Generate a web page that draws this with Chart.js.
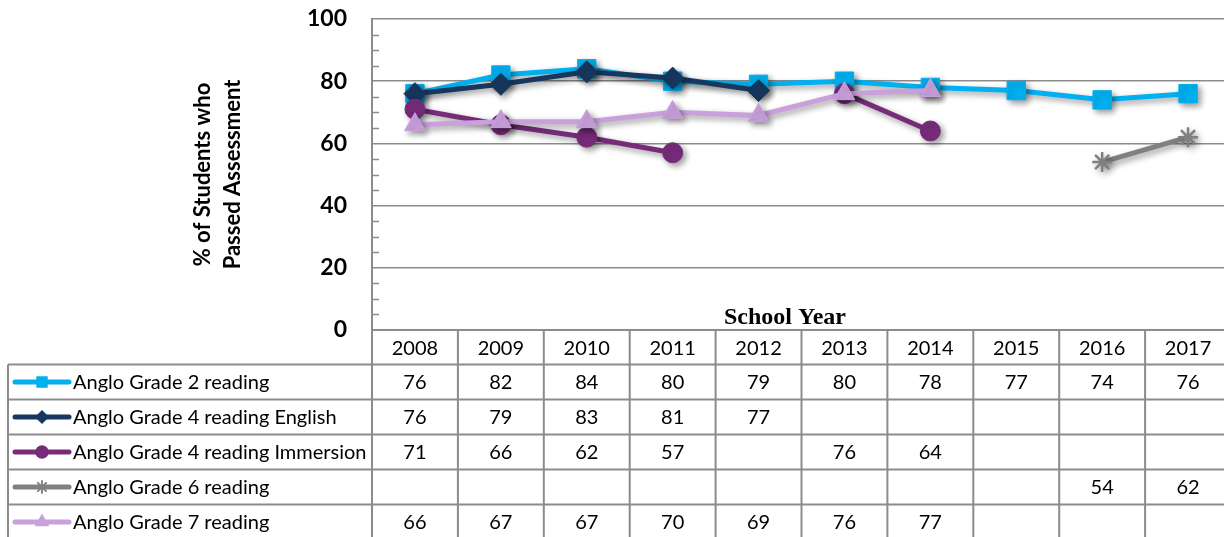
<!DOCTYPE html>
<html>
<head>
<meta charset="utf-8">
<script src="https://cdn.jsdelivr.net/npm/chart.js"></script>
<style>
  html, body { margin: 0; background: #fff; overflow: hidden; }
  canvas { display: block; }
</style>
</head>
<body>
<canvas id="chart" width="1231" height="537"></canvas>
<script>
// Data
const years = ["2008", "2009", "2010", "2011", "2012", "2013", "2014", "2015", "2016", "2017"];
const grade2 = [76, 82, 84, 80, 79, 80, 78, 77, 74, 76];
const grade4English = [76, 79, 83, 81, 77, null, null, null, null, null];
const grade4Immersion = [71, 66, 62, 57, null, 76, 64, null, null, null];
const grade6 = [null, null, null, null, null, null, null, null, 54, 62];
const grade7 = [66, 67, 67, 70, 69, 76, 77, null, null, null];
const yTicks = [0, 20, 40, 60, 80, 100];

const seriesNames = [
  "Anglo Grade 2 reading",
  "Anglo Grade 4 reading English",
  "Anglo Grade 4 reading Immersion",
  "Anglo Grade 6 reading",
  "Anglo Grade 7 reading"
];
const seriesData = [grade2, grade4English, grade4Immersion, grade6, grade7];
const seriesColors = ["#00B0F0", "#17375E", "#772C7A", "#808080", "#C9A0DC"];
const seriesPoints = ["rect", "rectRot", "circle", "star", "triangle"];
const pointSizes = [13, 11, 10, 10, 12];
const keySizes = [7, 6, 6, 6, 7];

const gridColor = "#8c8c8c";
const tableFont = "20px Lato, 'Open Sans', sans-serif";

// Shadow under the lines and markers
const shadowPlugin = {
  id: "shadow",
  beforeDatasetDraw(chart) {
    const ctx = chart.ctx;
    ctx.save();
    ctx.shadowColor = "rgba(0,0,0,0.4)";
    ctx.shadowBlur = 6;
    ctx.shadowOffsetX = 3;
    ctx.shadowOffsetY = 3;
  },
  afterDatasetDraw(chart) {
    chart.ctx.restore();
  }
};

// Minor ticks on y axis + "School Year" label
const axisExtras = {
  id: "axisExtras",
  beforeDatasetsDraw(chart) {
    const { ctx, chartArea, scales: { y } } = chart;
    ctx.save();
    ctx.strokeStyle = gridColor;
    ctx.lineWidth = 1.5;
    for (let v = 5; v < 100; v += 5) {
      if (v % 20 === 0) continue;
      const py = Math.round(y.getPixelForValue(v)) + 0.5;
      ctx.beginPath();
      ctx.moveTo(chartArea.left, py);
      ctx.lineTo(chartArea.left + 7, py);
      ctx.stroke();
    }
    ctx.fillStyle = "#000";
    ctx.font = "bold 24px 'Liberation Serif', 'Times New Roman', serif";
    ctx.textAlign = "center";
    ctx.textBaseline = "alphabetic";
    ctx.fillText("School Year", chartArea.left + 413, chartArea.bottom - 6);
    ctx.restore();
  }
};

// Data table under the chart
const dataTable = {
  id: "dataTable",
  afterDraw(chart) {
    const { ctx, chartArea, scales: { x } } = chart;
    const step = x.getPixelForValue(1) - x.getPixelForValue(0);
    const top = chartArea.bottom;
    const headerBottom = top + 34.5;
    const rowH = 35;
    const tableLeft = 8;
    const bottom = chart.height + 5;

    ctx.save();
    ctx.strokeStyle = gridColor;
    ctx.lineWidth = 2;

    // horizontal lines
    for (let k = 0; k <= seriesNames.length; k++) {
      const py = headerBottom + k * rowH;
      ctx.beginPath();
      ctx.moveTo(tableLeft, py);
      ctx.lineTo(chartArea.right, py);
      ctx.stroke();
    }
    // vertical lines
    ctx.beginPath();
    ctx.moveTo(tableLeft, headerBottom);
    ctx.lineTo(tableLeft, bottom);
    ctx.stroke();
    for (let i = 0; i <= years.length; i++) {
      const px = x.getPixelForValue(0) - step / 2 + i * step;
      ctx.beginPath();
      ctx.moveTo(px, top);
      ctx.lineTo(px, bottom);
      ctx.stroke();
    }

    ctx.fillStyle = "#000";
    ctx.font = tableFont;
    ctx.textAlign = "center";
    ctx.textBaseline = "middle";
    years.forEach((yr, i) => {
      ctx.fillText(yr, x.getPixelForValue(i), (top + headerBottom) / 2 + 1);
    });

    seriesNames.forEach((name, s) => {
      const cy = headerBottom + s * rowH + rowH / 2;
      // legend key
      ctx.strokeStyle = seriesColors[s];
      ctx.lineWidth = 5;
      ctx.lineCap = "round";
      ctx.beginPath();
      ctx.moveTo(15, cy);
      ctx.lineTo(69, cy);
      ctx.stroke();
      if (Chart.helpers && Chart.helpers.drawPoint) {
        ctx.lineWidth = 1.5;
        Chart.helpers.drawPoint(ctx, {
          pointStyle: seriesPoints[s],
          radius: keySizes[s],
          rotation: 0,
          borderWidth: 1.5
        }, 42, cy);
        ctx.fillStyle = seriesColors[s];
        ctx.fill();
        if (seriesPoints[s] === "star") ctx.stroke();
      }
      ctx.fillStyle = "#000";
      ctx.textAlign = "left";
      ctx.fillText(name, 73, cy + 1);
      ctx.textAlign = "center";
      seriesData[s].forEach((v, i) => {
        if (v !== null) ctx.fillText(String(v), x.getPixelForValue(i), cy + 1);
      });
    });
    ctx.restore();
  }
};

const datasets = seriesNames.map((name, s) => ({
  label: name,
  data: seriesData[s],
  borderColor: seriesColors[s],
  backgroundColor: seriesColors[s],
  borderWidth: 5,
  pointStyle: seriesPoints[s],
  pointRadius: pointSizes[s],
  pointBorderWidth: seriesPoints[s] === "star" ? 2.5 : 1,
  pointBorderColor: seriesColors[s],
  pointBackgroundColor: seriesColors[s],
  tension: 0,
  spanGaps: false,
  order: seriesNames.length - s
}));

function noPad(scale) {
  scale.paddingTop = 0;
  scale.paddingBottom = 0;
  scale.paddingLeft = 0;
  scale.paddingRight = 0;
}

new Chart(document.getElementById("chart"), {
  type: "line",
  data: { labels: years, datasets: datasets },
  plugins: [shadowPlugin, axisExtras, dataTable],
  options: {
    responsive: false,
    animation: false,
    devicePixelRatio: 1,
    clip: false,
    layout: { autoPadding: false, padding: { left: 180, top: 19, right: 0, bottom: 207 } },
    plugins: { legend: { display: false }, tooltip: { enabled: false } },
    scales: {
      x: {
        offset: true,
        grid: { display: false, drawTicks: false },
        ticks: { display: false },
        border: { display: true, color: gridColor, width: 2 },
        afterFit: noPad
      },
      y: {
        min: 0,
        max: 100,
        afterBuildTicks(scale) {
          scale.ticks = yTicks.map(v => ({ value: v }));
        },
        afterFit(scale) {
          scale.width = 192;
          noPad(scale);
        },
        grid: { color: gridColor, lineWidth: 1.5, drawTicks: false },
        border: { display: true, color: gridColor, width: 2 },
        ticks: {
          color: "#000",
          padding: 25,
          font: { family: "Lato, 'Open Sans', sans-serif", size: 23, weight: "bold" }
        },
        title: {
          display: true,
          text: ["% of Students who", "Passed Assessment"],
          color: "#000",
          padding: { top: 8, bottom: 0 },
          font: { family: "Lato, 'Open Sans', sans-serif", size: 22, weight: "bold", lineHeight: 1.36 }
        }
      }
    }
  }
});
</script>
</body>
</html>
